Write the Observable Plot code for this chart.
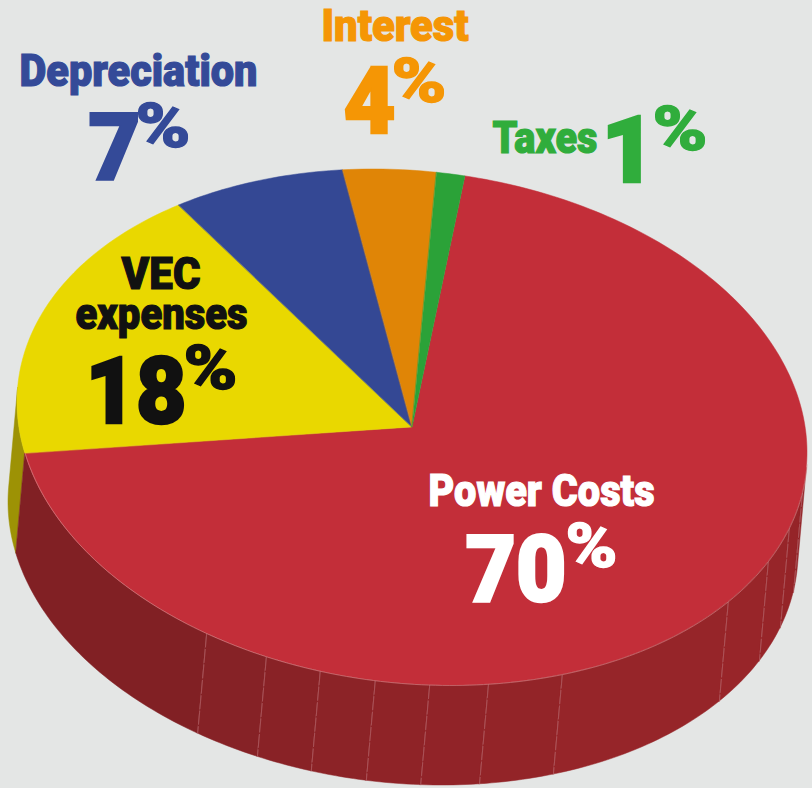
<!DOCTYPE html>
<html>
<head>
<meta charset="utf-8">
<script src="https://cdn.jsdelivr.net/npm/d3@7"></script>
<script src="https://cdn.jsdelivr.net/npm/@observablehq/plot@0.6"></script>
<style>
  html, body { margin: 0; padding: 0; background: #e4e6e5; }
  svg { display: block; }
</style>
</head>
<body>
<div id="chart"></div>
<script>
// Data (slice sizes as drawn; labels show them rounded)
const categories = ["Power Costs", "VEC expenses", "Depreciation", "Interest", "Taxes"];
const shares = [69.7, 18.1, 7.25, 3.8, 1.15];
const topColors = ["#c32e39", "#e9d800", "#344894", "#e08506", "#2ba238"];
const labelColors = ["#ffffff", "#111111", "#344a98", "#f59605", "#30ad3c"];

// Rib angles along the visible side wall (degrees clockwise from the top of the pie)
const ribAngles = [211.4, 201.7, 193.5, 185.4, 177.5, 168.9, 157.7, 126.9, 115.7, 107.4, 99.1];
const facetShades = ["#812024", "#862226", "#892226", "#8c2327", "#8f2327", "#912328", "#932428", "#962529", "#982529", "#972529", "#952428", "#932428"];
const yellowSideColor = "#9d9205";

// Pie projection: a tilted disc, in pie radii
const startAngle = 7.7, skew = 5.6, depthX = -9 / 395, depthY = -100 / 258;
const leftSilhouette = 273.3, rightSilhouette = 93.4;
const rad = Math.PI / 180;
const rimX = (a) => Math.sin(a * rad);
const rimY = (a) => Math.cos((a + skew) * rad);
const steps = (a0, a1) => {
  const n = Math.max(2, Math.ceil(Math.abs(a1 - a0)));
  return d3.range(n + 1).map((i) => a0 + ((a1 - a0) * i) / n);
};

// Slices of the top face, walking clockwise from the start angle
let cum = startAngle;
const slices = categories.map((name, i) => {
  const a0 = cum;
  cum += shares[i] * 3.6;
  return { name, a0, a1: cum, color: topColors[i] };
});
const red = slices[0], yellow = slices[1];
const wedge = slices.flatMap((s) => steps(s.a0, s.a1).map((a) => ({ name: s.name, a, color: s.color })));

// Side wall facets
const edges = [red.a1, ...ribAngles, rightSilhouette];
const facets = facetShades.flatMap((color, i) =>
  steps(edges[i], edges[i + 1]).map((a) => ({ id: "r" + i, a, color }))
);
const yellowWall = steps(yellow.a0, leftSilhouette).map((a) => ({ id: "y", a, color: yellowSideColor }));

const label = (text, left, baseline, size, width, color, strokeWidth) =>
  Plot.text([text], {
    text: (d) => d,
    frameAnchor: "top-left",
    dx: left,
    dy: baseline,
    textAnchor: "start",
    lineAnchor: "bottom",
    fontSize: size,
    fontWeight: 900,
    fontFamily: "Roboto, 'Liberation Sans', sans-serif",
    fill: color,
    stroke: color,
    strokeWidth,
    strokeLinejoin: "miter",
    render(index, scales, values, dimensions, context, next) {
      const g = next(index, scales, values, dimensions, context);
      g.querySelectorAll("text").forEach((t) => {
        t.setAttribute("textLength", width);
        t.setAttribute("lengthAdjust", "spacingAndGlyphs");
      });
      return g;
    }
  });

const num = (i) => String(Math.round(shares[i]));
const sc = (i) => labelColors[i];
const nameSize = 45, nameStroke = 1.2, digitSize = 92, digitStroke = 2.6, pctSize = 62, pctStroke = 1.3;

const plot = Plot.plot({
  width: 812,
  height: 788,
  margin: 0,
  style: { background: "#e4e6e5" },
  x: { domain: [-412 / 395, 400 / 395], range: [0, 812], axis: null },
  y: { domain: [-361 / 258, 427 / 258], range: [788, 0], axis: null },
  marks: [
    // side wall
    Plot.area(yellowWall, {
      x1: (d) => rimX(d.a), y1: (d) => rimY(d.a),
      x2: (d) => rimX(d.a) + depthX, y2: (d) => rimY(d.a) + depthY,
      z: "id", fill: "color", stroke: "color", strokeWidth: 0.5
    }),
    Plot.area(facets, {
      x1: (d) => rimX(d.a), y1: (d) => rimY(d.a),
      x2: (d) => rimX(d.a) + depthX, y2: (d) => rimY(d.a) + depthY,
      z: "id", fill: "color", stroke: "color", strokeWidth: 0.5
    }),
    // ribs
    Plot.link(ribAngles, {
      x1: (a) => rimX(a), y1: (a) => rimY(a),
      x2: (a) => rimX(a) + depthX, y2: (a) => rimY(a) + depthY,
      stroke: "#b5666b", strokeWidth: 0.7, strokeDasharray: "14 1.5"
    }),
    // top face
    Plot.area(wedge, {
      x1: () => 0, y1: () => 0,
      x2: (d) => rimX(d.a), y2: (d) => rimY(d.a),
      z: "name", fill: "color", stroke: "color", strokeWidth: 0.5
    }),
    // thin highlight on the front rim
    Plot.line(steps(red.a0 + 85, red.a1), {
      x: (a) => rimX(a), y: (a) => rimY(a),
      stroke: "#d88a8d", strokeWidth: 0.6
    }),
    // labels
    label(categories[2], 19, 85.5, nameSize, 238, sc(2), nameStroke),
    label(num(2), 88, 178, digitSize, 52, sc(2), digitStroke),
    label("%", 135, 146.5, pctSize, 55, sc(2), pctStroke),

    label(categories[3], 321, 40.5, nameSize, 147, sc(3), nameStroke),
    label(num(3), 343, 132, digitSize, 52, sc(3), digitStroke),
    label("%", 391, 101.5, pctSize, 55, sc(3), pctStroke),

    label(categories[4], 492, 152.5, nameSize, 105, sc(4), nameStroke),
    label(num(4), 601, 181, digitSize, 54, sc(4), digitStroke),
    label("%", 652, 149.5, pctSize, 55, sc(4), pctStroke),

    label("VEC", 121, 288.5, nameSize, 79, sc(1), nameStroke),
    label("expenses", 75, 328.5, nameSize, 172, sc(1), nameStroke),
    label(num(1), 85, 422, digitSize, 101, sc(1), digitStroke),
    label("%", 183, 388.5, pctSize, 54, sc(1), pctStroke),

    label(categories[0], 428, 505.5, nameSize, 226, sc(0), nameStroke),
    label(num(0), 465, 600, digitSize, 101, sc(0), digitStroke),
    label("%", 565, 566.5, pctSize, 52, sc(0), pctStroke)
  ]
});
document.getElementById("chart").append(plot);
</script>
</body>
</html>
